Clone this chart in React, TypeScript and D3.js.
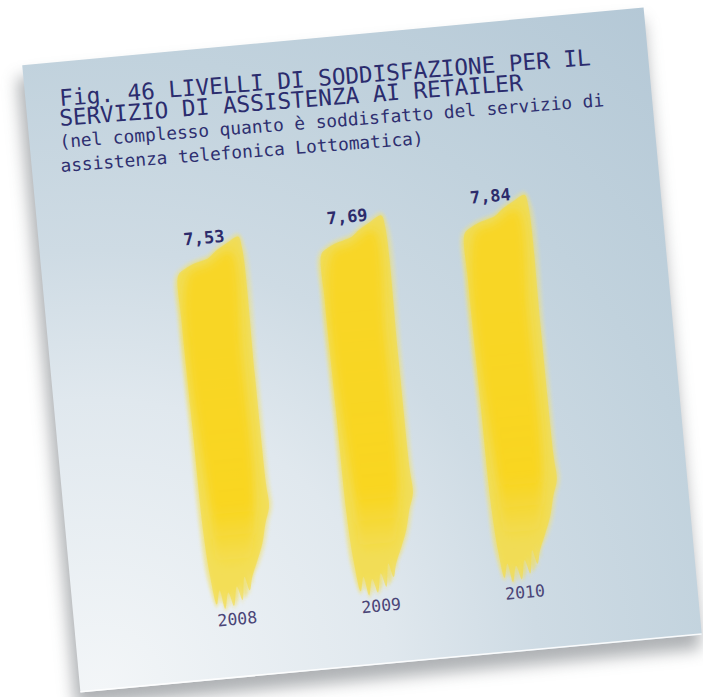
import React from 'react';
import * as d3 from 'd3';

// ---- data ----
const years: string[] = ['2008', '2009', '2010'];
const scores: number[] = [7.53, 7.69, 7.84];
const scoreLabels: string[] = ['7,53', '7,69', '7,84'];
const titleLines: string[] = [
  'Fig. 46 LIVELLI DI SODDISFAZIONE PER IL',
  'SERVIZIO DI ASSISTENZA AI RETAILER',
];
const subtitleLines: string[] = [
  '(nel complesso quanto è soddisfatto del servizio di',
  'assistenza telefonica Lottomatica)',
];

// ---- layout ----
const W = 703;
const H = 697;
const CX = 362;
const CY = 350;
const ROT = -5.3;
const CARD_W = 624;
const CARD_H = 630;
const BASE = 243;
const BAR_W = 66;
const FONT = '"DejaVu Sans Mono", "Liberation Mono", monospace';

type P = [number, number];

// brush outline; `tips` shapes the ragged bottom (style only)
function outline(L: number, T: number, B: number, g: number, tips: P[]): P[] {
  const R = L + BAR_W;
  const bottom: P[] = [];
  tips.forEach((tp, k) => {
    bottom.push([L + tp[0], B + tp[1] + g]);
    if (k < tips.length - 1) {
      const nx = tips[k + 1];
      bottom.push([L + (tp[0] + nx[0]) / 2, B + Math.min(tp[1], nx[1]) - 14]);
    }
  });
  return [
    [L - g, T + 33],
    [L + 6, T + 28 - g],
    [L + 14, T + 24 - g],
    [L + 24, T + 21 - g],
    [L + 31, T + 19 - g],
    [L + 40, T + 12 - g],
    [L + 52, T + 5 - g],
    [R - 3, T - g],
    [R + g, T + 12],
    [R + 1 + g, T + 140],
    [R + 2 + g, B - 120],
    [R + 3 + g, B - 96],
    [R - 2 + g, B - 80],
    [R - 7 + g, B - 60],
    [R - 14 + g, B - 42],
    [R - 20, B - 28 + g],
    ...bottom,
    [L + 4 - g, B - 30],
    [L + 1 - g, B - 80],
    [L - g, (T + B) / 2],
    [L - 1 - g, T + 80],
  ];
}

function coreShape(L: number, T: number, B: number): P[] {
  const R = L + BAR_W;
  return [
    [L + 10, T + 34],
    [L + 30, T + 26],
    [R - 12, T + 14],
    [R - 10, T + 120],
    [R - 12, B - 90],
    [R - 26, B - 40],
    [L + 16, B - 40],
    [L + 10, B - 100],
  ];
}

export default function App() {
  const x = d3.scalePoint<string>().domain(years).range([-143, 146]);
  const y = d3.scaleLinear().domain([0, 8]).range([BASE, BASE - 8 * 48.8]);
  const closed = d3.line<P>().curve(d3.curveCatmullRomClosed.alpha(0.5));

  const titleStarts: P[] = [
    [60, 106],
    [60, 126],
  ];
  const subStarts: P[] = [
    [60, 148],
    [61, 172],
  ];
  const tipSets: P[][] = [
    [[42, -14], [34, -5], [25, 0], [16, 2], [8, -3]],
    [[39, -9], [29, -2], [19, 1], [10, -4]],
    [[46, -18], [37, -8], [28, -2], [20, 2], [12, -2]],
  ];

  return (
    <div style={{ position: 'absolute', left: 0, top: 0, width: W, height: H }}>
      <svg width={W} height={H} viewBox={`0 0 ${W} ${H}`} style={{ display: 'block' }}>
        <defs>
          <radialGradient id="cardBg" gradientUnits="userSpaceOnUse" cx={-292} cy={314} r={880}>
            <stop offset="0" stopColor="#f3f6f8" />
            <stop offset="0.33" stopColor="#e0e8ee" />
            <stop offset="0.5" stopColor="#cedbe4" />
            <stop offset="0.72" stopColor="#c1d2dd" />
            <stop offset="1" stopColor="#b4c8d6" />
          </radialGradient>
          <linearGradient id="coreGrad" x1="0" y1="0" x2="0" y2="1">
            <stop offset="0" stopColor="#f9d51c" stopOpacity="0.85" />
            <stop offset="0.8" stopColor="#f9d51c" stopOpacity="0.95" />
            <stop offset="1" stopColor="#f9d51c" stopOpacity="0" />
          </linearGradient>
          <filter id="shadow" x="-20%" y="-20%" width="140%" height="140%">
            <feGaussianBlur stdDeviation="8" />
          </filter>
          <filter id="soft" x="-20%" y="-20%" width="140%" height="140%">
            <feGaussianBlur stdDeviation="1.4" />
          </filter>
          <filter id="softer" x="-30%" y="-30%" width="160%" height="160%">
            <feGaussianBlur stdDeviation="4" />
          </filter>
        </defs>
        <rect x={0} y={0} width={W} height={H} fill="#ffffff" />
        <g transform={`translate(${CX},${CY}) rotate(${ROT})`}>
          <rect
            x={-CARD_W / 2 - 6}
            y={-CARD_H / 2 + 12}
            width={CARD_W + 4}
            height={CARD_H + 2}
            fill="#5f656b"
            opacity={0.5}
            filter="url(#shadow)"
          />
          <rect x={-CARD_W / 2} y={-CARD_H / 2} width={CARD_W} height={CARD_H} fill="url(#cardBg)" />
          <line
            x1={-CARD_W / 2}
            y1={CARD_H / 2 - 0.8}
            x2={CARD_W / 2}
            y2={CARD_H / 2 - 0.8}
            stroke="#ffffff"
            strokeWidth={1.6}
            opacity={0.9}
          />
          {years.map((yr, i) => {
            const cx = x(yr) as number;
            const L = cx - BAR_W / 2;
            const T = y(scores[i]);
            const B = y(0);
            return (
              <g key={yr}>
                <path
                  d={closed(outline(L, T, B, 4, tipSets[0])) || ''}
                  fill="#efe38c"
                  opacity={0.4}
                  filter="url(#soft)"
                />
                <path
                  d={closed(outline(L, T, B, 0, tipSets[1])) || ''}
                  transform="translate(-2,3)"
                  fill="#f2df5c"
                  opacity={0.45}
                  filter="url(#soft)"
                />
                <path
                  d={closed(outline(L, T, B, 0, tipSets[2])) || ''}
                  transform="translate(1,-1)"
                  fill="#f3dd4e"
                  opacity={0.4}
                  filter="url(#soft)"
                />
                <path d={closed(outline(L, T, B, 0, tipSets[0])) || ''} fill="#f5dc40" opacity={0.6} />
                <path d={closed(coreShape(L, T, B)) || ''} fill="url(#coreGrad)" filter="url(#softer)" />
                <text
                  x={cx - 4}
                  y={T + 4}
                  textAnchor="middle"
                  fontFamily={FONT}
                  fontWeight="bold"
                  fontSize={17}
                  fill="#2d2b6b"
                >
                  {scoreLabels[i]}
                </text>
                <text
                  x={cx - 6}
                  y={B + 19}
                  textAnchor="middle"
                  fontFamily={FONT}
                  fontSize={16.5}
                  fill="#4a4577"
                >
                  {yr}
                </text>
              </g>
            );
          })}
        </g>
        {titleLines.map((t, i) => (
          <text
            key={t}
            transform={`translate(${titleStarts[i][0]},${titleStarts[i][1]}) rotate(-4.4)`}
            fontFamily={FONT}
            fontSize={22.7}
            fill="#2b2c6e"
          >
            {t}
          </text>
        ))}
        {subtitleLines.map((t, i) => (
          <text
            key={t}
            transform={`translate(${subStarts[i][0]},${subStarts[i][1]}) rotate(-4.4)`}
            fontFamily={FONT}
            fontSize={17.8}
            fill="#2e2f70"
          >
            {t}
          </text>
        ))}
      </svg>
    </div>
  );
}
